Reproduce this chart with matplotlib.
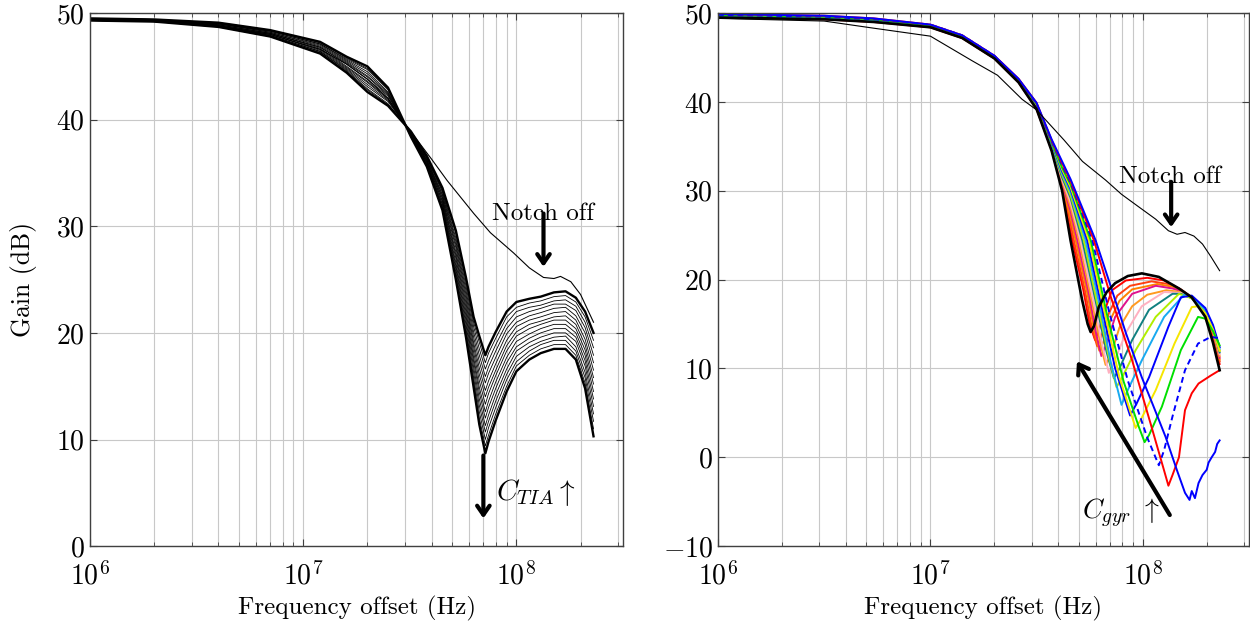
import matplotlib
matplotlib.use("Agg")
import matplotlib.pyplot as plt
from matplotlib.ticker import LogLocator, NullFormatter

plt.rcParams['font.family'] = 'serif'
plt.rcParams['font.serif'] = ['cmr10']
plt.rcParams['mathtext.fontset'] = 'cm'
plt.rcParams['axes.formatter.use_mathtext'] = True

# ---- left: gain for the C_TIA sweep ----
tia_freq = [1e6, 2e6, 4e6, 7e6, 1.2e7, 1.6e7, 2e7, 2.5e7, 3.2e7, 3.8e7, 4.5e7, 5.2e7, 5.8e7, 6.3e7,
            6.7e7, 7.15e7, 7.4e7, 8e7, 9e7, 1e8, 1.15e8, 1.3e8, 1.5e8, 1.7e8, 1.9e8, 2.1e8, 2.3e8]
tia_gain = [
    [49.3, 49.2, 48.7, 47.8, 46.2, 44.4, 42.6, 41.3, 38.9, 36.6, 33.6, 29.6, 25.2, 21.5, 19.7, 17.9, 18.7, 20.1, 22.0, 22.9, 23.2, 23.4, 23.8, 23.9, 23.3, 22.0, 20.0],
    [49.3, 49.2, 48.7, 47.8, 46.3, 44.5, 42.8, 41.4, 38.9, 36.5, 33.5, 29.3, 24.8, 21.0, 19.1, 17.2, 18.1, 19.5, 21.5, 22.4, 22.8, 23.0, 23.4, 23.5, 22.9, 21.5, 19.3],
    [49.3, 49.2, 48.8, 47.9, 46.4, 44.6, 42.9, 41.5, 38.8, 36.5, 33.3, 28.9, 24.4, 20.6, 18.5, 16.6, 17.4, 18.9, 20.9, 22.0, 22.4, 22.6, 23.0, 23.1, 22.5, 21.0, 18.6],
    [49.3, 49.2, 48.8, 47.9, 46.4, 44.7, 43.1, 41.7, 38.8, 36.4, 33.2, 28.6, 24.0, 20.1, 17.9, 15.9, 16.8, 18.3, 20.4, 21.5, 22.0, 22.3, 22.7, 22.7, 22.1, 20.5, 17.9],
    [49.4, 49.3, 48.8, 48.0, 46.5, 44.8, 43.3, 41.8, 38.8, 36.3, 33.0, 28.3, 23.6, 19.6, 17.3, 15.3, 16.2, 17.7, 19.9, 21.0, 21.6, 21.9, 22.3, 22.4, 21.6, 20.0, 17.2],
    [49.4, 49.3, 48.8, 48.0, 46.6, 44.9, 43.5, 41.9, 38.7, 36.2, 32.9, 28.0, 23.2, 19.1, 16.7, 14.6, 15.5, 17.1, 19.3, 20.6, 21.2, 21.5, 21.9, 22.0, 21.2, 19.4, 16.5],
    [49.4, 49.3, 48.9, 48.1, 46.7, 45.0, 43.6, 42.0, 38.7, 36.2, 32.7, 27.6, 22.8, 18.7, 16.1, 14.0, 14.9, 16.5, 18.8, 20.1, 20.8, 21.1, 21.5, 21.6, 20.8, 18.9, 15.8],
    [49.4, 49.3, 48.9, 48.1, 46.8, 45.2, 43.8, 42.2, 38.7, 36.1, 32.6, 27.3, 22.4, 18.2, 15.5, 13.3, 14.3, 16.0, 18.3, 19.7, 20.4, 20.8, 21.2, 21.2, 20.4, 18.4, 15.2],
    [49.4, 49.3, 48.9, 48.1, 46.8, 45.3, 44.0, 42.3, 38.6, 36.0, 32.4, 27.0, 22.0, 17.7, 14.9, 12.6, 13.6, 15.4, 17.7, 19.2, 19.9, 20.4, 20.8, 20.8, 20.0, 17.9, 14.5],
    [49.4, 49.3, 49.0, 48.2, 46.9, 45.4, 44.1, 42.4, 38.6, 36.0, 32.3, 26.6, 21.6, 17.3, 14.4, 12.0, 13.0, 14.8, 17.2, 18.7, 19.5, 20.0, 20.4, 20.4, 19.6, 17.4, 13.8],
    [49.4, 49.3, 49.0, 48.2, 47.0, 45.5, 44.3, 42.5, 38.5, 35.9, 32.1, 26.3, 21.2, 16.8, 13.8, 11.3, 12.3, 14.2, 16.6, 18.3, 19.1, 19.6, 20.0, 20.0, 19.2, 16.9, 13.1],
    [49.5, 49.4, 49.0, 48.3, 47.1, 45.6, 44.5, 42.6, 38.5, 35.8, 32.0, 26.0, 20.8, 16.3, 13.2, 10.7, 11.7, 13.6, 16.1, 17.8, 18.7, 19.2, 19.6, 19.7, 18.7, 16.3, 12.4],
    [49.5, 49.4, 49.0, 48.3, 47.1, 45.7, 44.7, 42.8, 38.5, 35.7, 31.8, 25.7, 20.4, 15.8, 12.6, 10.0, 11.1, 13.0, 15.6, 17.3, 18.3, 18.9, 19.3, 19.3, 18.3, 15.8, 11.7],
    [49.5, 49.4, 49.1, 48.4, 47.2, 45.8, 44.8, 42.9, 38.4, 35.7, 31.7, 25.3, 20.0, 15.4, 12.0, 9.4, 10.4, 12.4, 15.0, 16.9, 17.9, 18.5, 18.9, 18.9, 17.9, 15.3, 11.0],
    [49.5, 49.4, 49.1, 48.4, 47.3, 45.9, 45.0, 43.0, 38.4, 35.6, 31.5, 25.0, 19.6, 14.9, 11.4, 8.7, 9.8, 11.8, 14.5, 16.4, 17.5, 18.1, 18.5, 18.5, 17.5, 14.8, 10.3],
]
tia_off_freq = [1e6, 2e6, 4e6, 7e6, 1.2e7, 1.6e7, 2e7, 2.5e7, 3.2e7, 3.36e7, 4e7, 4.73e7, 6.31e7, 7.55e7,
                9.7e7, 1.15e8, 1.34e8, 1.5e8, 1.61e8, 1.8e8, 2e8, 2.3e8]
tia_off_gain = [49.4, 49.2, 48.8, 48.0, 46.6, 45.2, 43.8, 42.0, 38.8, 38.3, 36.3, 34.3, 31.2, 29.4,
                27.5, 26.1, 25.2, 25.1, 25.3, 24.8, 23.6, 21.0]

# ---- right: gain for the C_gyr sweep ----
gyr_head_freq = [1e6, 3.16e6, 5.4e6, 1e7, 1.41e7, 2e7, 2.6e7, 3.16e7, 3.72e7, 4.17e7, 4.57e7]
gyr_head_gain = [
    [49.5, 49.3, 49.0, 48.4, 47.2, 44.9, 42.2, 39.2, 34.5, 30.0, 24.4],
    [49.5, 49.3, 49.0, 48.4, 47.2, 44.9, 42.2, 39.2, 34.6, 30.2, 25.4],
    [49.6, 49.4, 49.1, 48.4, 47.2, 44.9, 42.3, 39.3, 34.7, 30.4, 26.3],
    [49.6, 49.4, 49.1, 48.5, 47.3, 45.0, 42.3, 39.3, 34.8, 30.7, 27.0],
    [49.6, 49.4, 49.1, 48.5, 47.3, 45.0, 42.3, 39.4, 34.8, 30.9, 27.7],
    [49.6, 49.4, 49.1, 48.5, 47.3, 45.0, 42.3, 39.4, 34.9, 31.1, 28.2],
    [49.7, 49.5, 49.2, 48.5, 47.3, 45.0, 42.4, 39.5, 35.0, 31.3, 28.7],
    [49.7, 49.5, 49.2, 48.5, 47.3, 45.0, 42.4, 39.5, 35.1, 31.5, 29.2],
    [49.7, 49.5, 49.2, 48.6, 47.4, 45.1, 42.4, 39.6, 35.2, 31.8, 29.5],
    [49.7, 49.5, 49.2, 48.6, 47.4, 45.1, 42.4, 39.6, 35.3, 32.0, 29.9],
    [49.8, 49.6, 49.3, 48.6, 47.4, 45.1, 42.5, 39.7, 35.4, 32.2, 30.2],
    [49.8, 49.6, 49.3, 48.6, 47.4, 45.1, 42.5, 39.7, 35.5, 32.4, 30.4],
    [49.8, 49.6, 49.3, 48.6, 47.4, 45.1, 42.5, 39.8, 35.5, 32.6, 30.7],
    [49.8, 49.6, 49.3, 48.7, 47.5, 45.2, 42.5, 39.8, 35.6, 32.9, 30.9],
    [49.9, 49.7, 49.4, 48.7, 47.5, 45.2, 42.6, 39.9, 35.7, 33.1, 31.1],
    [49.9, 49.7, 49.4, 48.7, 47.5, 45.2, 42.6, 39.9, 35.8, 33.3, 31.3],
]
gyr_tail_freq = [
    [5.18e7, 5.5e7, 5.68e7, 5.9e7, 6.2e7, 6.76e7, 7.41e7, 8.5e7, 9.9e7, 1.19e8, 1.48e8, 1.7e8, 1.97e8, 2.14e8, 2.3e8],
    [4.66e7, 5.25e7, 5.62e7, 5.96e7, 6.2e7, 6.61e7, 7.16e7, 8.32e7, 1.05e8, 1.26e8, 1.48e8, 1.7e8, 1.97e8, 2.14e8, 2.3e8],
    [4.74e7, 5.37e7, 5.75e7, 6.1e7, 6.38e7, 6.92e7, 7.59e7, 8.71e7, 1.1e8, 1.32e8, 1.51e8, 1.7e8, 1.97e8, 2.14e8, 2.3e8],
    [4.83e7, 5.5e7, 5.89e7, 6.24e7, 6.53e7, 7.08e7, 7.76e7, 8.91e7, 1.17e8, 1.38e8, 1.51e8, 1.7e8, 1.97e8, 2.14e8, 2.3e8],
    [4.92e7, 5.62e7, 6.03e7, 6.38e7, 6.76e7, 7.41e7, 8.91e7, 1.15e8, 1.38e8, 1.51e8, 1.7e8, 1.97e8, 2.14e8, 2.3e8],
    [5.01e7, 5.75e7, 6.31e7, 6.68e7, 7.08e7, 7.76e7, 8.91e7, 1.05e8, 1.29e8, 1.51e8, 1.7e8, 1.97e8, 2.14e8, 2.3e8],
    [5.09e7, 5.89e7, 6.46e7, 6.92e7, 7.41e7, 8.32e7, 9.89e7, 1.26e8, 1.51e8, 1.7e8, 1.97e8, 2.14e8, 2.3e8],
    [5.19e7, 6.03e7, 6.76e7, 7.31e7, 7.76e7, 8.91e7, 1.07e8, 1.38e8, 1.51e8, 1.7e8, 1.97e8, 2.14e8, 2.3e8],
    [5.28e7, 6.17e7, 6.92e7, 7.52e7, 8.0e7, 9.25e7, 1.15e8, 1.48e8, 1.7e8, 1.97e8, 2.14e8, 2.3e8],
    [5.38e7, 6.31e7, 7.08e7, 7.94e7, 8.51e7, 9.89e7, 1.26e8, 1.58e8, 1.7e8, 1.97e8, 2.14e8, 2.3e8],
    [5.48e7, 6.46e7, 7.41e7, 8.71e7, 9.33e7, 1.07e8, 1.32e8, 1.51e8, 1.7e8, 1.97e8, 2.14e8, 2.3e8],
    [5.58e7, 6.61e7, 7.76e7, 9.25e7, 9.77e7, 1.15e8, 1.41e8, 1.7e8, 1.82e8, 1.97e8, 2.14e8, 2.3e8],
    [5.69e7, 6.76e7, 8.13e7, 9.55e7, 1.02e8, 1.07e8, 1.23e8, 1.51e8, 1.82e8, 1.97e8, 2.14e8, 2.3e8],
    [5.79e7, 6.92e7, 8.51e7, 1.05e8, 1.19e8, 1.26e8, 1.38e8, 1.58e8, 1.82e8, 2.09e8, 2.3e8],
    [5.89e7, 7.08e7, 8.91e7, 1.1e8, 1.26e8, 1.32e8, 1.38e8, 1.48e8, 1.58e8, 1.7e8, 1.83e8, 2.09e8, 2.3e8],
    [6.0e7, 6.92e7, 8.32e7, 9.89e7, 1.12e8, 1.28e8, 1.45e8, 1.58e8, 1.66e8, 1.7e8, 1.76e8, 1.83e8, 1.91e8,
     2.0e8, 2.04e8, 2.11e8, 2.19e8, 2.24e8, 2.3e8],
]
gyr_tail_gain = [
    [17.7, 15.0, 14.1, 14.8, 16.9, 18.6, 19.6, 20.4, 20.7, 20.3, 19.0, 18.0, 15.8, 12.9, 9.8],
    [24.4, 18.8, 15.0, 13.2, 14.2, 16.5, 18.8, 19.9, 20.2, 19.9, 19.0, 18.0, 16.0, 13.5, 10.5],
    [24.4, 18.5, 14.6, 12.5, 13.6, 16.2, 18.2, 19.3, 19.8, 19.5, 18.9, 18.0, 16.1, 13.8, 10.8],
    [24.4, 18.3, 14.4, 12.0, 13.0, 15.6, 17.6, 18.9, 19.5, 19.2, 18.8, 18.0, 16.2, 14.0, 11.0],
    [24.4, 18.0, 13.9, 11.4, 12.8, 15.8, 18.4, 19.3, 19.0, 18.7, 18.0, 16.3, 14.2, 11.2],
    [24.4, 17.6, 12.8, 10.4, 11.5, 14.6, 17.0, 18.3, 18.8, 18.6, 18.0, 16.3, 14.3, 11.4],
    [24.4, 17.3, 12.5, 9.5, 11.0, 14.0, 17.0, 18.6, 18.5, 18.0, 16.4, 14.4, 11.6],
    [24.4, 17.3, 11.8, 8.9, 10.0, 13.2, 16.6, 18.4, 18.4, 17.9, 16.4, 14.5, 11.8],
    [24.4, 16.8, 11.3, 7.9, 9.0, 12.05, 15.8, 18.4, 17.9, 16.5, 14.6, 12.0],
    [24.4, 16.7, 10.6, 5.9, 7.6, 10.9, 15.8, 18.4, 18.1, 16.6, 14.7, 12.2],
    [24.4, 16.5, 10.0, 4.7, 6.0, 9.0, 14.7, 18.0, 18.2, 16.8, 14.9, 12.4],
    [24.4, 16.3, 9.0, 3.3, 4.2, 7.55, 12.8, 16.9, 17.0, 16.2, 14.4, 12.0],
    [24.4, 16.2, 8.5, 3.5, 1.7, 2.5, 5.7, 12.05, 15.8, 15.6, 14.2, 12.6],
    [24.4, 16.5, 8.6, 2.2, -0.9, 0.8, 4.6, 9.8, 12.8, 13.55, 13.4],
    [24.4, 18.0, 10.9, 3.4, -1.5, -3.2, -2.0, 0.0, 5.3, 7.2, 8.3, 9.2, 9.8],
    [24.4, 19.9, 14.0, 9.0, 5.8, 2.3, -1.5, -4.0, -4.8, -3.8, -4.6, -2.9, -2.0,
     -1.4, -0.6, 0.0, 0.6, 1.5, 1.9],
]
gyr_colors = ['black', '#ff0000', '#ff4010', '#ff8000', '#e0108c', '#ff9a20', '#ffb0c0', '#108080',
              '#b0ee00', '#18aaf0', '#0000ff', '#f5e600', '#00e000', '#0000ff', '#ff0000', '#0000ff']
gyr_dashed = [13]

gyr_off_freq = [1e6, 3.16e6, 5.4e6, 1e7, 1.58e7, 2.07e7, 2.7e7, 3.16e7, 4.26e7, 5.2e7, 6.68e7, 7.94e7,
                9.55e7, 1.15e8, 1.32e8, 1.45e8, 1.58e8, 1.74e8, 1.91e8, 2.09e8, 2.3e8]
gyr_off_gain = [49.4, 49.1, 48.3, 47.4, 44.6, 43.0, 40.3, 39.1, 35.7, 33.3, 31.2, 29.6,
                28.2, 26.8, 25.5, 25.1, 25.3, 24.9, 24.0, 22.6, 21.0]


def style_axes(ax, ylo, yhi):
    ax.set_xscale('log')
    ax.set_xlim(1e6, 10 ** 8.5)
    ax.set_ylim(ylo, yhi)
    ax.set_yticks(range(ylo, yhi + 1, 10))
    ax.xaxis.set_major_locator(LogLocator(base=10, numticks=10))
    ax.xaxis.set_minor_locator(LogLocator(base=10, subs=range(2, 10), numticks=30))
    ax.xaxis.set_minor_formatter(NullFormatter())
    ax.grid(True, which='both', axis='x', color='#c8c8c8', lw=0.8)
    ax.grid(True, which='major', axis='y', color='#c8c8c8', lw=0.8)
    ax.set_axisbelow(True)
    ax.tick_params(which='both', direction='in', top=True, right=True,
                   labelsize=20, color='#404040')
    ax.tick_params(which='major', length=5, width=0.8)
    ax.tick_params(axis='x', which='major', pad=11)
    ax.tick_params(which='minor', length=3, width=0.6)
    for s in ax.spines.values():
        s.set_color('#404040')
        s.set_linewidth(1.0)
    ax.set_xlabel('Frequency offset (Hz)', fontsize=18, labelpad=4)


fig = plt.figure(figsize=(12.5, 6.22), dpi=100)
ax1 = fig.add_axes([0.072, 0.122, 0.4264, 0.857])
ax2 = fig.add_axes([0.5744, 0.122, 0.4248, 0.857])

# left panel
style_axes(ax1, 0, 50)
for k, g in enumerate(tia_gain):
    thick = k in (0, len(tia_gain) - 1)
    ax1.plot(tia_freq, g, color='black', lw=1.7 if thick else 0.6)
ax1.plot(tia_off_freq, tia_off_gain, color='black', lw=0.8)
ax1.set_ylabel('Gain (dB)', fontsize=18.5, labelpad=14)

arrow = dict(arrowstyle='->,head_length=0.65,head_width=0.45', lw=3, color='black',
             shrinkA=0, shrinkB=0)
ax1.text(1.34e8, 31.2, 'Notch off', fontsize=18, ha='center', va='center')
ax1.annotate('', xy=(1.34e8, 26.2), xytext=(1.34e8, 31.2), arrowprops=arrow)
ax1.annotate('', xy=(7.0e7, 2.6), xytext=(7.0e7, 8.5), arrowprops=arrow)
ax1.text(1.24e8, 5.0, r'$C_{TIA}\uparrow$', fontsize=21, ha='center', va='center')

# right panel
style_axes(ax2, -10, 50)
order = list(range(1, len(gyr_colors))) + [0]
for i in order:
    f = gyr_head_freq + gyr_tail_freq[i]
    g = gyr_head_gain[i] + gyr_tail_gain[i]
    ls = (0, (3, 2)) if i in gyr_dashed else '-'
    ax2.plot(f, g, color=gyr_colors[i], lw=1.9 if i == 0 else 1.4, ls=ls)
ax2.plot(gyr_off_freq, gyr_off_gain, color='black', lw=0.8)

ax2.text(1.34e8, 31.6, 'Notch off', fontsize=18, ha='center', va='center')
ax2.annotate('', xy=(1.36e8, 25.9), xytext=(1.36e8, 31.0), arrowprops=arrow)
ax2.annotate('', xy=(4.9e7, 10.8), xytext=(1.34e8, -6.5), arrowprops=arrow)
ax2.text(7.9e7, -6.3, r'$C_{gyr}\ \uparrow$', fontsize=20, ha='center', va='center')

fig.savefig('out.png', dpi=100)
